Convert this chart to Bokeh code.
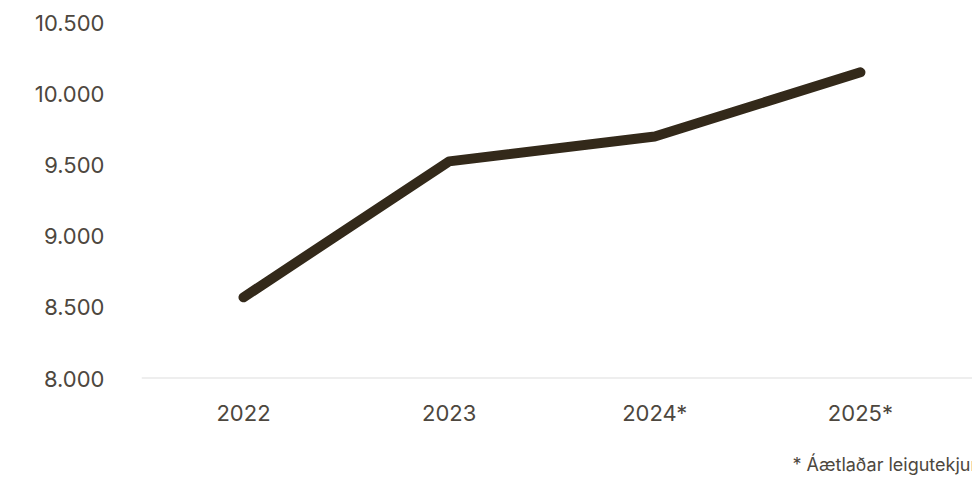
from bokeh.plotting import figure
from bokeh.models import FixedTicker, Span, Title
from bokeh.embed import file_html
from bokeh.resources import INLINE

categories = ["2022", "2023", "2024*", "2025*"]
values = [8570, 9525, 9700, 10150]
y_ticks = [8000, 8500, 9000, 9500, 10000, 10500]
y_tick_labels = ["8.000", "8.500", "9.000", "9.500", "10.000", "10.500"]
footnote = "* Áætlaðar leigutekjur"

xs = list(range(len(categories)))
TEXT = "#4d473e"
LINE = "#33291a"
FONT = "Inter"

p = figure(width=972, height=479, output_backend="svg", toolbar_location=None,
           x_range=(-0.496, 3.545), y_range=(8000, 10500),
           min_border_left=141, min_border_right=0, min_border_top=22, min_border_bottom=0)
p.outline_line_color = None
p.background_fill_color = "white"
p.border_fill_color = "white"

p.line(xs, values, line_color=LINE, line_width=10, line_cap="round", line_join="round")

p.xgrid.visible = False
p.ygrid.visible = False
p.add_layout(Span(location=8000, dimension="width", line_color="#dddddd", line_width=2))

p.yaxis.ticker = FixedTicker(ticks=y_ticks)
p.yaxis.major_label_overrides = {t: l for t, l in zip(y_ticks, y_tick_labels)}
p.yaxis.axis_line_color = None
p.yaxis.major_tick_line_color = None
p.yaxis.minor_tick_line_color = None
p.yaxis.major_label_standoff = 31
p.yaxis.major_label_text_font = FONT
p.yaxis.major_label_text_font_size = "22px"
p.yaxis.major_label_text_color = TEXT

p.xaxis.ticker = FixedTicker(ticks=xs)
p.xaxis.major_label_overrides = {i: c for i, c in zip(xs, categories)}
p.xaxis.axis_line_color = None
p.xaxis.major_tick_line_color = None
p.xaxis.minor_tick_line_color = None
p.xaxis.major_label_standoff = 15
p.xaxis.major_label_text_font = FONT
p.xaxis.major_label_text_font_size = "22px"
p.xaxis.major_label_text_color = TEXT

spacer = Title(text=" ", text_font_size="10px", standoff=6)
p.add_layout(spacer, "below")
note = Title(text=footnote, align="left", offset=651, text_font=FONT, text_font_size="18px",
             text_color=TEXT, text_font_style="normal", standoff=9)
p.add_layout(note, "below")

open("out.html", "w").write(file_html(p, INLINE))
